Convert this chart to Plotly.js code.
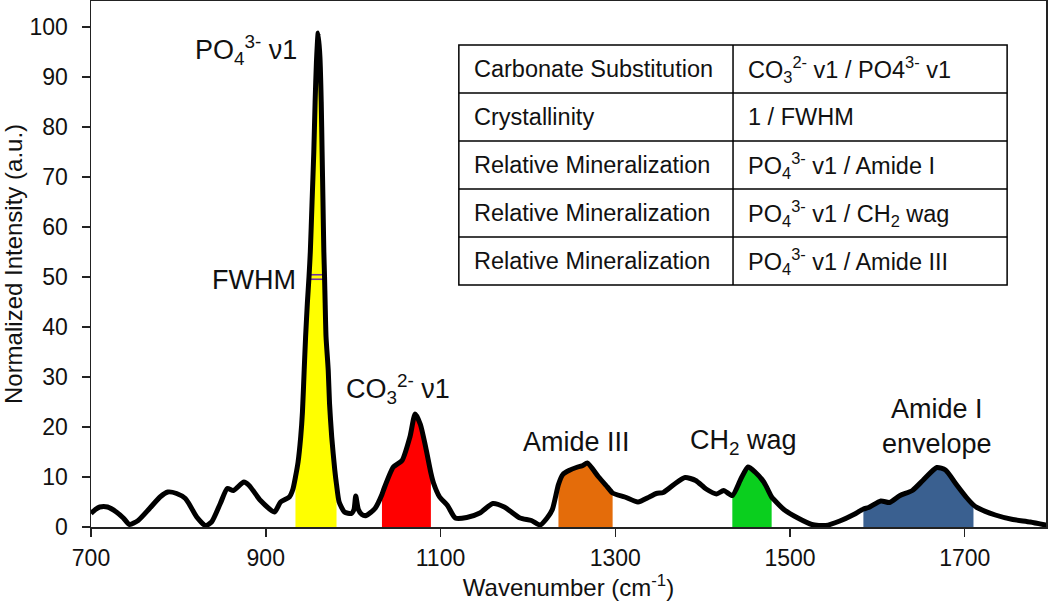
<!DOCTYPE html>
<html>
<head>
<meta charset="utf-8">
<script src="https://cdn.plot.ly/plotly-3.0.1.min.js"></script>
<style>html,body{margin:0;padding:0;background:#fff;}#chart{width:1050px;height:601px;}</style>
</head>
<body>
<div id="chart"></div>
<script>
// ---- Data ----
const wavenumber = [700,705,710,719,729,737,744,754,767,779,788,798,808,812,821,831,838,848,856,863,875,881,894,910,917,927,931,934,937,940,942,944,945.6,947.6,949.5,951,953,955,956.5,958,960,962,963.5,964.5,965.5,966.5,967.3,968,969,971.5,973,975.5,979,981,984,990,998,1001,1003,1006,1010,1015,1025,1033,1035,1046,1056,1065,1071,1077,1083,1089,1092,1099,1108,1117,1130,1145,1160,1173,1191,1204,1214,1222,1228,1235,1240,1247,1257,1263,1268,1281,1291,1297,1311,1326,1339,1347,1355,1368,1380,1392,1404,1416,1424,1434,1444,1452,1460,1470,1479,1481,1493,1509,1525,1541,1557,1573,1584,1590,1604,1614,1626,1640,1652,1668,1678,1690,1702,1710,1714,1735,1755,1775,1795];
const intensity = [2.7,3.5,4,4,3,1.8,0.5,1.3,3.7,6,7,6.7,5.7,4.7,2,0.3,1,4.7,7.7,7.3,9,8.3,5.3,3,5,6,7.5,10,13,18,23,31.4,38,44.7,50,55,65,75,85,93,98.8,94,85,75,65,55,50,44.7,38,31.4,24.7,18,11.4,8.5,5,3,2.7,3.5,6.2,3.5,2.5,2.3,3.7,6.5,7.5,12,13.3,18,22.6,20.5,16,10.8,8.8,6,4.3,1.8,1.9,2.8,4.7,4,1.8,1.3,0.4,1.8,3.5,8.5,10.5,11.3,12,12.3,12.8,10,8,6.8,6,5,6,6.7,6.9,8.6,9.9,9.3,7.6,6.6,7.3,6.3,9.7,12,11,9,6,5.6,3.5,1.8,0.5,0.3,1.2,2.5,3.6,3.9,5.2,4.9,6.3,7.3,9.3,11.9,11.4,8.6,5.9,4.4,3.9,2.4,1.5,1,0.3];

// Integrated band regions
const bandNames = ["PO4 v1", "CO3 v1", "Amide III", "CH2 wag", "Amide I"];
const bandStart = [934, 1033, 1235, 1434, 1584];
const bandEnd   = [981, 1089, 1297, 1479, 1710];

// FWHM marker of the phosphate peak
const fwhmLevel = 50;
const fwhmLeft = 951;
const fwhmRight = 966.5;

// Axis ticks
const xTicks = [700, 900, 1100, 1300, 1500, 1700];
const yTicks = [0, 10, 20, 30, 40, 50, 60, 70, 80, 90, 100];

// Table contents
const tableMetric = ["Carbonate Substitution", "Crystallinity", "Relative Mineralization", "Relative Mineralization", "Relative Mineralization"];
const tableRatio = ["CO<sub>3</sub><sup>2-</sup> v1 / PO4<sup>3-</sup> v1", "1 / FWHM", "PO<sub>4</sub><sup>3-</sup> v1 / Amide I", "PO<sub>4</sub><sup>3-</sup> v1 / CH<sub>2</sub> wag", "PO<sub>4</sub><sup>3-</sup> v1 / Amide III"];

// Peak labels
const peakLabels = ["PO<sub>4</sub><sup>3-</sup> \u03bd1", "FWHM", "CO<sub>3</sub><sup>2-</sup> \u03bd1", "Amide III", "CH<sub>2</sub> wag", "Amide I<br>envelope"];

// ---- Styles ----
const bandColors = ["#FFFF00", "#FF0000", "#E46C0A", "#0ACF1E", "#3A6090"];
const FONT = "Liberation Sans, Arial, sans-serif";
const TXT = "#111111";

const traces = [];
bandNames.forEach((nm, i) => {
  const xs = [], ys = [];
  wavenumber.forEach((w, k) => {
    if (w >= bandStart[i] && w <= bandEnd[i]) { xs.push(w); ys.push(intensity[k]); }
  });
  traces.push({x: xs, y: ys, type: "scatter", mode: "lines", fill: "tozeroy",
    fillcolor: bandColors[i], line: {width: 0, color: bandColors[i], shape: "spline", smoothing: 0.6},
    hoverinfo: "skip", showlegend: false, name: nm});
});
[fwhmLevel + 0.45, fwhmLevel - 0.45].forEach(lv => {
  traces.push({x: [fwhmLeft, fwhmRight], y: [lv, lv], type: "scatter", mode: "lines",
    line: {width: 1.6, color: "#7030A0"}, showlegend: false, hoverinfo: "skip"});
});
traces.push({x: wavenumber, y: intensity, type: "scatter", mode: "lines",
  line: {width: 5, color: "#000000", shape: "spline", smoothing: 0.6}, showlegend: false, name: "Spectrum"});

// table geometry (data coordinates)
const tX0 = 1121, tX1 = 1748.5, tXm = 1434.8, tYTop = 96.4, rowH = 9.6;
const shapes = [];
shapes.push({type: "rect", xref: "x", yref: "y", x0: tX0, x1: tX1, y0: tYTop - rowH * tableMetric.length, y1: tYTop,
  line: {color: "#000", width: 1.5}, fillcolor: "#ffffff", layer: "above"});
shapes.push({type: "line", xref: "x", yref: "y", x0: tXm, x1: tXm, y0: tYTop - rowH * tableMetric.length, y1: tYTop,
  line: {color: "#000", width: 1.5}, layer: "above"});
for (let r = 1; r < tableMetric.length; r++) {
  shapes.push({type: "line", xref: "x", yref: "y", x0: tX0, x1: tX1, y0: tYTop - rowH * r, y1: tYTop - rowH * r,
    line: {color: "#000", width: 1.5}, layer: "above"});
}
const annotations = [];
tableMetric.forEach((t, r) => {
  const yc = tYTop - rowH * (r + 0.5);
  annotations.push({x: tX0 + 15, y: yc, xref: "x", yref: "y", text: t, showarrow: false, xanchor: "left", yanchor: "middle",
    font: {family: FONT, size: 23.5, color: TXT}});
  annotations.push({x: tXm + 15, y: yc, xref: "x", yref: "y", text: tableRatio[r], showarrow: false, xanchor: "left", yanchor: "middle",
    font: {family: FONT, size: 23.5, color: TXT}});
});
const labelPos = [[877, 95.5], [886.5, 49.4], [1051, 27.6], [1256, 17.0], [1447, 17.0], [1668, 20.2]];
peakLabels.forEach((t, i) => {
  annotations.push({x: labelPos[i][0], y: labelPos[i][1], xref: "x", yref: "y", text: t, showarrow: false,
    xanchor: "center", yanchor: "middle", font: {family: FONT, size: 27, color: TXT}});
});

const layout = {
  width: 1050, height: 601,
  margin: {l: 91, r: 4, t: 1, b: 74, pad: 0},
  paper_bgcolor: "#ffffff", plot_bgcolor: "#ffffff",
  showlegend: false,
  xaxis: {range: [700, 1793], tickvals: xTicks, ticks: "outside", ticklen: 8, tickwidth: 1.5, tickcolor: "#222",
    showline: true, linecolor: "#222", linewidth: 1.5, mirror: true, showgrid: false, zeroline: false,
    ticklabelstandoff: 2,
    tickfont: {family: FONT, size: 23, color: TXT},
    title: {text: "Wavenumber (cm<sup>-1</sup>)", font: {family: FONT, size: 24, color: TXT}, standoff: 10}},
  yaxis: {range: [0, 105.2], tickvals: yTicks, ticks: "outside", ticklen: 8, tickwidth: 1.5, tickcolor: "#222",
    showline: true, linecolor: "#222", linewidth: 1.5, mirror: true, showgrid: false, zeroline: false,
    ticklabelstandoff: 9,
    tickfont: {family: FONT, size: 23, color: TXT},
    title: {text: "Normalized Intensity (a.u.)", font: {family: FONT, size: 24, color: TXT}, standoff: 6}},
  shapes: shapes,
  annotations: annotations
};
Plotly.newPlot("chart", traces, layout, {displayModeBar: false, staticPlot: true});
</script>
</body>
</html>
